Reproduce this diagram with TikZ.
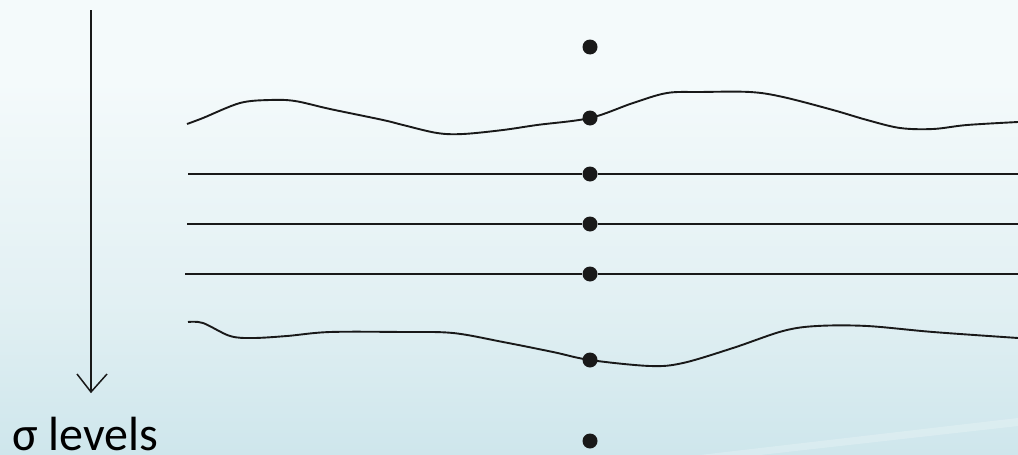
\documentclass[tikz,border=0pt]{standalone}
\usepackage{fontspec}
\setmainfont{Carlito}
\definecolor{bgA}{HTML}{F4FAFB}
\definecolor{bgB}{HTML}{E2F0F3}
\definecolor{bgC}{HTML}{C6E2E9}
\definecolor{bgD}{HTML}{A8D4DF}
\pgfdeclareverticalshading{panelbg}{100bp}{
  color(0bp)=(bgD); color(18bp)=(bgC); color(42bp)=(bgB); color(66bp)=(bgA); color(100bp)=(bgA)}
\tikzset{
  level/.style={line width=1.9pt, black!90},
  pt/.style={circle, fill=black!90, inner sep=0pt, minimum size=15pt},
  axisline/.style={line width=1.5pt, black!90},
  lbl/.style={font=\fontsize{48}{52}\selectfont, anchor=base west, inner sep=0pt}
}
\begin{document}
\begin{tikzpicture}[x=1pt,y=-1pt]
  % background panel
  \shade[shading=panelbg] (0,0) rectangle (1018,455);
  \useasboundingbox (0,0) rectangle (1018,455);
  \fill[white, opacity=0.22] (700,455) -- (1018,418) -- (1018,426) -- (760,455) -- cycle;

  % vertical sigma axis
  \coordinate (axtop) at (91,10);
  \coordinate (axbot) at (91,392);
  \draw[axisline] (axtop) -- (axbot);
  \draw[axisline] ([xshift=-14pt,yshift=18pt]axbot) -- (axbot) -- ([xshift=16pt,yshift=18pt]axbot);
  \node[lbl] (siglbl) at (12,450) {σ levels};

  % grid points along the column
  \node[pt] (p0) at (590,47) {};
  \node[pt] (p1) at (590,118) {};
  \node[pt] (p2) at (590,174) {};
  \node[pt] (p3) at (590,224) {};
  \node[pt] (p4) at (590,274) {};
  \node[pt] (p5) at (590,360) {};
  \node[pt] (p6) at (590,441) {};

  % flat sigma levels
  \coordinate (l2a) at (188,174); \coordinate (l2b) at (1018,174);
  \coordinate (l3a) at (187,224); \coordinate (l3b) at (1018,224);
  \coordinate (l4a) at (185,274); \coordinate (l4b) at (1018,274);
  \draw[level] (l2a) -- (p2) -- (l2b);
  \draw[level] (l3a) -- (p3) -- (l3b);
  \draw[level] (l4a) -- (p4) -- (l4b);

  % upper terrain-following level
  \draw[level] plot[smooth, tension=0.55] coordinates {
    (187,124) (203,118) (240,103) (270,100) (295,101) (330,109)
    (383,120) (403,125) (437,133) (463,134) (503,130) (537,125) (590,118)
    (633,103) (667,93) (700,92) (750,92) (783,97) (833,110) (867,120)
    (900,128) (933,129) (967,125) (1018,122)};

  % lower terrain-following level
  \draw[level] plot[smooth, tension=0.55] coordinates {
    (188,322) (203,323) (230,336) (253,338) (287,336) (330,332) (403,332)
    (453,333) (503,342) (553,352) (590,360) (650,366) (683,363) (733,348)
    (783,331) (817,326) (867,326) (933,332) (1018,338)};
\end{tikzpicture}
\end{document}
